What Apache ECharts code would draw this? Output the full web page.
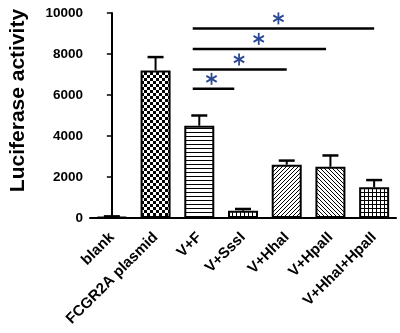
<!DOCTYPE html>
<html>
<head>
<meta charset="utf-8">
<script src="https://cdn.jsdelivr.net/npm/echarts@6.0.0/dist/echarts.min.js"></script>
<style>
  html, body { margin: 0; padding: 0; background: #fff; }
  #chart { width: 400px; height: 333px; }
</style>
</head>
<body>
<div id="chart"></div>
<script>
// data
var groups = ['blank', 'FCGR2A plasmid', 'V+F', 'V+SssI', 'V+HhaI', 'V+HpaII', 'V+HhaI+HpaII'];
var means = [50, 7200, 4500, 350, 2600, 2500, 1500];
var errors = [30, 650, 500, 90, 200, 550, 350];
var yTicks = [0, 2000, 4000, 6000, 8000, 10000];

// significance brackets: [from, to, height, star position] in category units
var sigFrom = [1.85, 1.85, 1.85, 1.85];
var sigTo = [2.8, 4.0, 4.9, 6.0];
var sigLevel = [6300, 7250, 8250, 9250];
var sigStar = [2.28, 2.91, 3.36, 3.81];

// fill patterns drawn on small canvases
function pattern(size, test) {
    var c = document.createElement('canvas');
    c.width = size; c.height = size;
    var ctx = c.getContext('2d');
    var img = ctx.createImageData(size, size);
    for (var y = 0; y < size; y++) {
        for (var x = 0; x < size; x++) {
            var i = (y * size + x) * 4;
            var v = test(x, y) ? 0 : 255;
            img.data[i] = v; img.data[i + 1] = v; img.data[i + 2] = v; img.data[i + 3] = 255;
        }
    }
    ctx.putImageData(img, 0, 0);
    return {image: c, repeat: 'repeat'};
}
var fills = [
    '#fff',
    pattern(6, function (x, y) { return (Math.floor(x / 3) + Math.floor(y / 3)) % 2 === 0; }),
    pattern(4, function (x, y) { return y % 4 === 0; }),
    pattern(4, function (x, y) { return x % 4 === 0; }),
    pattern(4, function (x, y) { return (x + y) % 4 === 0; }),
    pattern(4, function (x, y) { return (x - y + 8) % 4 === 0; }),
    pattern(4, function (x, y) { return x % 4 === 0 || y % 4 === 0; })
];

var barData = means.map(function (v, i) {
    return {value: v, itemStyle: {color: fills[i]}};
});
var errData = means.map(function (v, i) {
    return [i, v, v + errors[i]];
});
var sigData = sigFrom.map(function (v, i) {
    return [v, sigTo[i], sigLevel[i], sigStar[i]];
});

// asterisk drawn as three crossing strokes
function asterisk(cx, cy, r) {
    var parts = [];
    [90, 30, -30].forEach(function (deg) {
        var a = deg * Math.PI / 180;
        var dx = Math.cos(a) * r, dy = Math.sin(a) * r;
        parts.push({
            type: 'line',
            shape: {x1: cx - dx, y1: cy - dy, x2: cx + dx, y2: cy + dy},
            style: {stroke: '#2a4894', lineWidth: 1.8}
        });
    });
    return parts;
}

var chart = echarts.init(document.getElementById('chart'), null, {renderer: 'canvas'});
chart.setOption({
    animation: false,
    grid: {left: 84, top: 13, width: 312, height: 205},
    xAxis: [{
        type: 'category',
        data: groups,
        axisLine: {lineStyle: {color: '#000', width: 2}},
        axisTick: {alignWithLabel: true, length: 5, lineStyle: {color: '#000', width: 1.5}},
        axisLabel: {
            rotate: 45, interval: 0, margin: 17,
            color: '#000', fontSize: 15, fontWeight: 'bold', fontFamily: 'Liberation Sans, Arial'
        }
    }, {
        type: 'value', min: -0.5, max: 6.5, show: false
    }],
    yAxis: {
        type: 'value',
        min: 0, max: 10000, interval: 2000,
        name: 'Luciferase activity',
        nameLocation: 'middle',
        nameGap: 61,
        nameTextStyle: {
            color: '#000', fontSize: 21, fontWeight: 'bold',
            fontFamily: 'Liberation Sans, Arial', padding: [0, 0, 0, 30]
        },
        axisLine: {show: true, lineStyle: {color: '#000', width: 2}},
        axisTick: {show: true, length: 5, lineStyle: {color: '#000', width: 1.5}},
        splitLine: {show: false},
        axisLabel: {
            color: '#000', fontSize: 13.5, fontWeight: 'bold', margin: 7,
            fontFamily: 'Liberation Sans, Arial',
            formatter: function (v) { return String(v); }
        }
    },
    series: [{
        type: 'bar',
        data: barData,
        barWidth: 30,
        itemStyle: {borderColor: '#000', borderWidth: 2},
        z: 2
    }, {
        type: 'custom',
        data: errData,
        z: 1,
        renderItem: function (params, api) {
            var base = api.coord([api.value(0), api.value(1)]);
            var top = api.coord([api.value(0), api.value(2)]);
            var half = 8;
            return {
                type: 'group',
                children: [{
                    type: 'line',
                    shape: {x1: base[0], y1: base[1], x2: top[0], y2: top[1]},
                    style: {stroke: '#000', lineWidth: 2}
                }, {
                    type: 'line',
                    shape: {x1: top[0] - half, y1: top[1], x2: top[0] + half, y2: top[1]},
                    style: {stroke: '#000', lineWidth: 2.5}
                }]
            };
        }
    }, {
        type: 'custom',
        xAxisIndex: 1,
        data: sigData,
        renderItem: function (params, api) {
            var a = api.coord([api.value(0), api.value(2)]);
            var b = api.coord([api.value(1), api.value(2)]);
            var s = api.coord([api.value(3), api.value(2)]);
            return {
                type: 'group',
                children: [{
                    type: 'line',
                    shape: {x1: a[0], y1: a[1], x2: b[0], y2: b[1]},
                    style: {stroke: '#000', lineWidth: 2.5}
                }].concat(asterisk(s[0], s[1] - 10, 6))
            };
        }
    }]
});
</script>
</body>
</html>
